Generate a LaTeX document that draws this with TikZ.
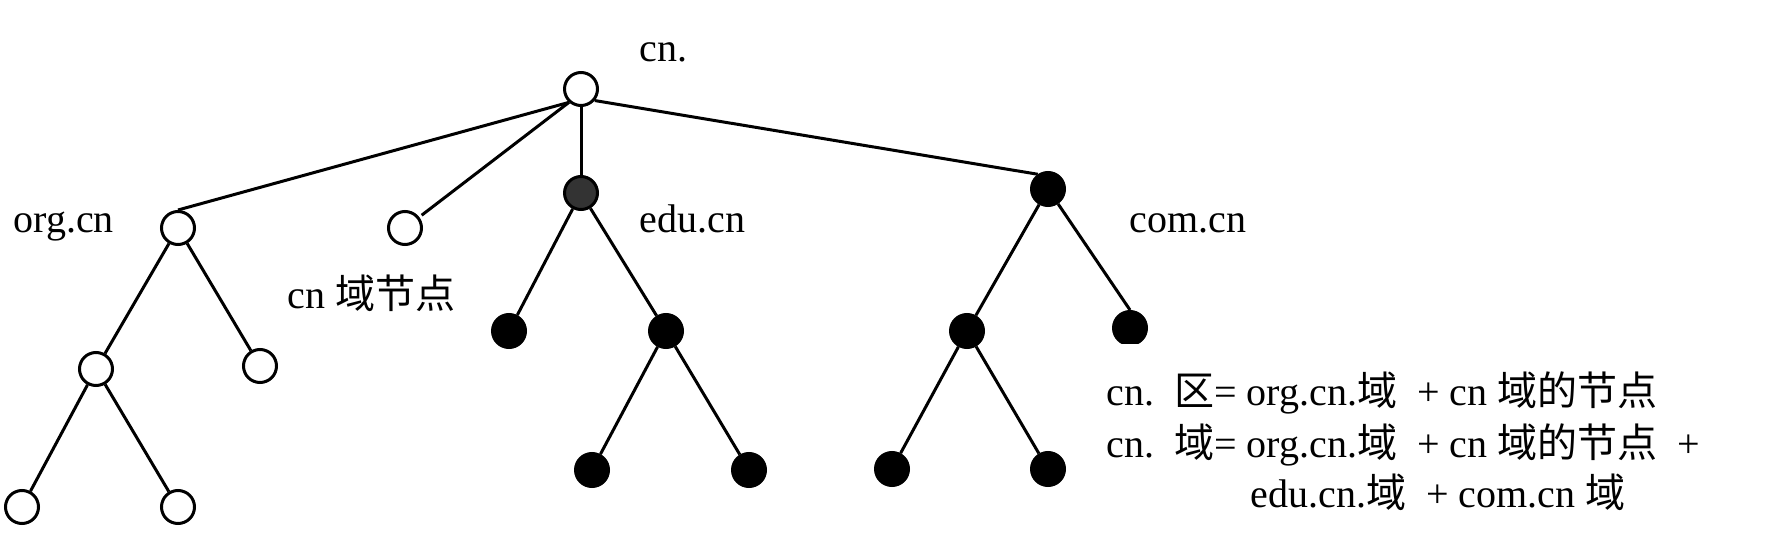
\documentclass[tikz,border=0pt]{standalone}
\usepackage{fontspec}
\setmainfont{Liberation Serif}
\newfontfamily\cjk{Noto Sans CJK SC}
\newcommand{\zh}[1]{{\cjk #1}}
\begin{document}
\begin{tikzpicture}[x=1pt,y=-1pt,line width=3pt,
  nd/.style={circle,draw=black,line width=3pt,minimum size=33pt,inner sep=0pt},
  opennd/.style={nd,fill=white},
  blacknd/.style={nd,fill=black},
  graynd/.style={nd,fill=black!80},
  lbl/.style={anchor=base west,inner sep=0pt,font=\fontsize{40}{48}\selectfont}]
\useasboundingbox (0,0) rectangle (1777,556);
% nodes
\node[opennd] (root) at (581,89) {};
\node[opennd] (org) at (178,228) {};
\node[opennd] (cnn) at (405,228) {};
\node[graynd] (edu) at (581,193) {};
\node[blacknd] (com) at (1048,189) {};
\node[opennd] (o1) at (96,369) {};
\node[opennd] (o2) at (260,366) {};
\node[opennd] (o11) at (22,507) {};
\node[opennd] (o12) at (178,507) {};
\node[blacknd] (e1) at (509,331) {};
\node[blacknd] (e2) at (666,331) {};
\node[blacknd] (e21) at (592,470) {};
\node[blacknd] (e22) at (749,470) {};
\node[blacknd] (c1) at (967,331) {};
\begin{scope}
\clip (1080,300) rectangle (1180,343);
\node[blacknd] (c2) at (1130,328) {};
\end{scope}
\node[blacknd] (c11) at (892,469) {};
\node[blacknd] (c12) at (1048,469) {};
% edges
\draw (root.228) -- (org.north);
\draw[shorten >=3pt] (root.228) -- (cnn);
\draw (root) -- (edu);
\draw (root.-40) -- (com.125);
\draw (org) -- (o1);
\draw (org) -- (o2);
\draw (o1) -- (o11);
\draw (o1) -- (o12);
\draw (edu) -- (e1);
\draw (edu) -- (e2);
\draw (e2) -- (e21);
\draw (e2) -- (e22);
\draw (com) -- (c1);
\draw (com) -- (c2.north);
\draw (c1) -- (c11);
\draw (c1) -- (c12);
% labels
\node[lbl] (tcn) at (638,62) {cn.};
\node[lbl] (torg) at (12,233) {org.cn};
\node[lbl] (tedu) at (638,233) {edu.cn};
\node[lbl] (tcom) at (1128,233) {com.cn};
\node[lbl] (tcnn) at (286,308) {cn \zh{域节点}};
\node[lbl] (l1) at (1105,405) {cn.\ \ \zh{区}= org.cn.\zh{域}\ \ + cn \zh{域的节点}};
\node[lbl] (l2) at (1105,457) {cn.\ \ \zh{域}= org.cn.\zh{域}\ \ + cn \zh{域的节点}\ \ +};
\node[lbl] (l3) at (1249,507) {edu.cn.\zh{域}\ \ + com.cn \zh{域}};
\end{tikzpicture}
\end{document}
